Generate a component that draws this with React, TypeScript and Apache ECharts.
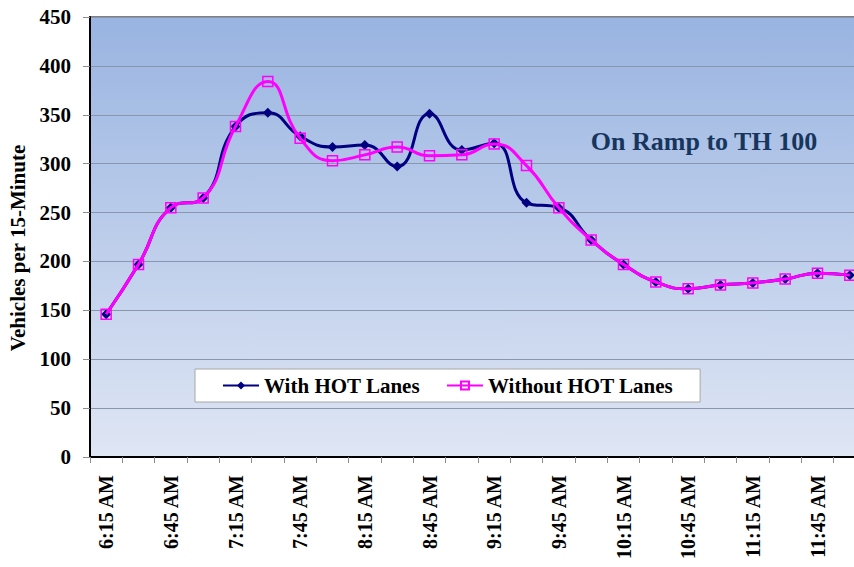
import React, { useEffect, useRef } from "react";
import * as echarts from "echarts";

const times = [
  "6:15 AM", "6:30 AM", "6:45 AM", "7:00 AM", "7:15 AM", "7:30 AM",
  "7:45 AM", "8:00 AM", "8:15 AM", "8:30 AM", "8:45 AM", "9:00 AM",
  "9:15 AM", "9:30 AM", "9:45 AM", "10:00 AM", "10:15 AM", "10:30 AM",
  "10:45 AM", "11:00 AM", "11:15 AM", "11:30 AM", "11:45 AM", "12:00 PM",
];
const withHot = [
  146, 197, 255, 265, 338, 352, 328, 317, 319, 297, 351, 314,
  321, 260, 255, 222, 197, 179, 172, 176, 178, 182, 188, 186,
];
const withoutHot = [
  146, 197, 255, 265, 338, 384, 326, 303, 309, 317, 308, 309,
  320, 298, 255, 222, 197, 179, 172, 176, 178, 182, 188, 186,
];
const seriesNames = ["With HOT Lanes", "Without HOT Lanes"];
const chartTitle = "On Ramp to TH 100";
const yAxisTitle = "Vehicles per 15-Minute";

const FONT = "'Times New Roman', 'Liberation Serif', serif";

export default function App() {
  const ref = useRef<HTMLDivElement>(null);
  useEffect(() => {
    const chart = echarts.init(ref.current!, null, { renderer: "svg" });
    chart.setOption({
      animation: false,
      backgroundColor: "#ffffff",
      grid: {
        left: 90,
        top: 17,
        width: 776,
        bottom: 110,
        containLabel: false,
        outerBoundsMode: "none",
        show: true,
        backgroundColor: new echarts.graphic.LinearGradient(0, 0, 0, 1, [
          { offset: 0, color: "#99B4E1" },
          { offset: 1, color: "#DFE6F4" },
        ]),
        borderColor: "#808080",
        borderWidth: 2,
      },
      legend: {
        left: 195,
        top: 369,
        backgroundColor: "#ffffff",
        borderColor: "#A6A6A6",
        borderWidth: 1,
        padding: [6, 27, 6, 27],
        itemGap: 26,
        itemWidth: 36,
        itemHeight: 10,
        textStyle: { fontSize: 21, fontWeight: "bold", fontFamily: FONT, color: "#000" },
        data: seriesNames,
      },
      graphic: [
        {
          type: "text",
          x: 704,
          y: 141,
          style: {
            text: chartTitle,
            fontSize: 26,
            fontWeight: "bold",
            fontFamily: FONT,
            fill: "#17365D",
            textAlign: "center",
            textVerticalAlign: "middle",
          },
        },
        {
          type: "text",
          x: 18,
          y: 248,
          rotation: Math.PI / 2,
          style: {
            text: yAxisTitle,
            fontSize: 21,
            fontWeight: "bold",
            fontFamily: FONT,
            fill: "#000",
            textAlign: "center",
            textVerticalAlign: "middle",
          },
        },
      ],
      xAxis: {
        type: "category",
        data: times,
        boundaryGap: true,
        axisLine: { lineStyle: { color: "#000", width: 2 } },
        axisTick: { show: true, interval: 0, length: 6, lineStyle: { color: "#8C8C8C" } },
        axisLabel: {
          interval: 1,
          rotate: 90,
          margin: 18,
          fontSize: 20,
          fontWeight: "bold",
          fontFamily: FONT,
          color: "#000",
        },
        splitLine: { show: false },
      },
      yAxis: {
        type: "value",
        min: 0,
        max: 450,
        interval: 50,
        axisLine: { show: true, lineStyle: { color: "#000", width: 2 } },
        axisTick: { show: true, length: 7, lineStyle: { color: "#8C8C8C" } },
        axisLabel: {
          margin: 19,
          fontSize: 21,
          fontWeight: "bold",
          fontFamily: FONT,
          color: "#000",
        },
        splitLine: { show: true, lineStyle: { color: "#8A96AE", width: 1 } },
      },
      series: [
        {
          name: seriesNames[0],
          type: "line",
          data: withHot,
          smooth: 0.5,
          symbol: "diamond",
          symbolSize: 10,
          lineStyle: { color: "#000080", width: 3 },
          itemStyle: { color: "#000080" },
          z: 2,
        },
        {
          name: seriesNames[1],
          type: "line",
          data: withoutHot,
          smooth: 0.5,
          symbol: "rect",
          symbolSize: 10,
          lineStyle: { color: "#FF00FF", width: 3 },
          itemStyle: { color: "rgba(255,0,255,0)", borderColor: "#FF00FF", borderWidth: 1.5 },
          z: 3,
        },
      ],
    });
    return () => chart.dispose();
  }, []);
  return (
    <div
      ref={ref}
      style={{ width: 854, height: 567, position: "absolute", left: 0, top: 0 }}
    />
  );
}
